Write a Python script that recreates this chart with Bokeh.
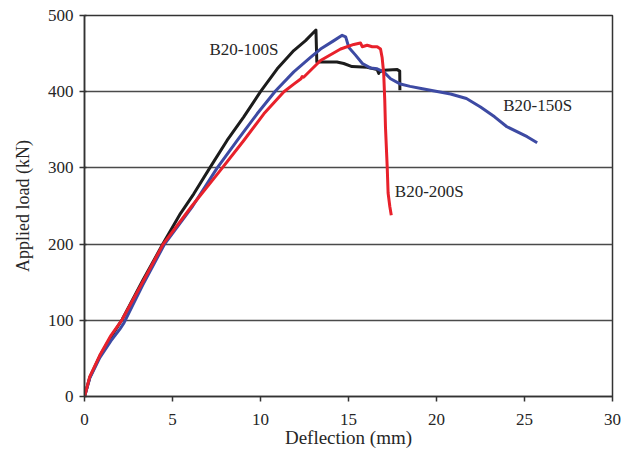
from bokeh.plotting import figure
from bokeh.models import Range1d, Label, FixedTicker
from bokeh.embed import file_html
from bokeh.resources import INLINE

# B20-100S (black)
d_100 = [0, 0.3, 0.87, 1.5, 2.14, 3.3, 4.45, 5.45, 6.21, 7.12, 8.1, 9.05, 10.0, 10.95, 11.89,
         12.56, 13.15, 13.2, 13.77, 14.34, 14.73, 15.2, 16.06, 16.63, 16.72, 16.76, 17.0,
         17.77, 17.91, 17.92]
p_100 = [0, 25, 53, 78, 101, 152, 200, 240, 266, 300, 336, 367, 400, 430, 454,
         467, 481, 439, 439, 439, 437, 433, 432, 429, 424, 426, 428,
         429, 427, 402]

# B20-150S (blue)
d_150 = [0, 0.3, 0.87, 1.5, 2.0, 2.25, 3.3, 4.55, 6.15, 7.54, 8.68, 9.81, 10.85, 11.89, 12.84,
         13.41, 14.17, 14.64, 14.84, 15.02, 15.4, 15.79, 16.26, 16.63, 17.0, 17.39, 17.95,
         18.5, 19.2, 20.8, 21.7, 22.5, 23.3, 24.0, 25.15, 25.72]
p_150 = [0, 24, 51, 73, 88, 97, 146, 200, 250, 300, 336, 371, 401, 426, 445,
         456, 467, 474, 472, 458, 448, 437, 431, 430, 426, 417, 410,
         407, 404, 397, 391, 380, 367, 354, 341, 333]

# B20-200S (red)
d_200 = [0, 0.3, 0.87, 1.5, 2.14, 3.37, 4.47, 6.1, 7.73, 9.05, 10.19, 11.33, 11.89, 12.3,
         12.37, 12.45, 12.65, 13.41, 14.55, 15.3, 15.68, 15.78, 16.06, 16.35, 16.63, 16.82,
         16.91, 17.0, 17.06, 17.1, 17.2, 17.25, 17.35, 17.43]
p_200 = [0, 26, 54, 80, 101, 153, 200, 250, 297, 336, 371, 400, 410, 417,
         420, 419, 423.5, 441, 456, 462, 464, 459, 461, 459, 459, 456,
         445, 424, 389, 354, 301, 267, 249, 238]

x_ticks = [0, 5, 10, 15, 20, 25, 30]
y_ticks = [0, 100, 200, 300, 400, 500]
series_names = ["B20-100S", "B20-150S", "B20-200S"]

FONT = "Liberation Serif"
TXT = "#262626"

p = figure(width=635, height=450, output_backend="svg", toolbar_location=None,
           x_range=Range1d(0, 30), y_range=Range1d(0, 500),
           min_border_left=84, min_border_top=15, min_border_right=23, min_border_bottom=53)
p.background_fill_color = "white"
p.border_fill_color = "white"
p.outline_line_color = "#333333"
p.outline_line_width = 1.5

p.xgrid.visible = False
p.ygrid.grid_line_color = "#4a4a4a"
p.ygrid.grid_line_width = 1.4

for ax in (p.xaxis[0], p.yaxis[0]):
    ax.axis_line_color = "#333333"
    ax.axis_line_width = 1.5
    ax.major_tick_line_color = "#333333"
    ax.major_tick_line_width = 1.5
    ax.minor_tick_line_color = None
    ax.major_label_text_font = FONT
    ax.major_label_text_font_size = "17px"
    ax.major_label_text_color = TXT
    ax.axis_label_text_font = FONT
    ax.axis_label_text_font_size = "18px"
    ax.axis_label_text_font_style = "normal"
    ax.axis_label_text_color = TXT

p.xaxis.axis_label_text_font_size = "19px"
p.xaxis.ticker = FixedTicker(ticks=x_ticks)
p.yaxis.ticker = FixedTicker(ticks=y_ticks)
p.xaxis.major_tick_out = 5
p.xaxis.major_tick_in = 0
p.yaxis.major_tick_out = 5
p.yaxis.major_tick_in = 2
p.xaxis.major_label_standoff = 12
p.yaxis.major_label_standoff = 6
p.xaxis.axis_label = "Deflection (mm)"
p.xaxis.axis_label_standoff = -1
p.yaxis.axis_label = "Applied load (kN)"
p.yaxis.axis_label_standoff = 12

p.line(d_100, p_100, line_color="#1c1c1c", line_width=3, line_join="round")
p.line(d_150, p_150, line_color="#3d4aa3", line_width=3, line_join="round")
p.line(d_200, p_200, line_color="#e8212b", line_width=3, line_join="round")

for name, x, y in zip(series_names, [7.1, 23.79, 17.63], [456, 382, 269]):
    p.add_layout(Label(x=x, y=y, text=name, text_font=FONT, text_font_size="17px",
                       text_color=TXT, text_align="left", text_baseline="middle"))

open("out.html", "w").write(file_html(p, INLINE))
